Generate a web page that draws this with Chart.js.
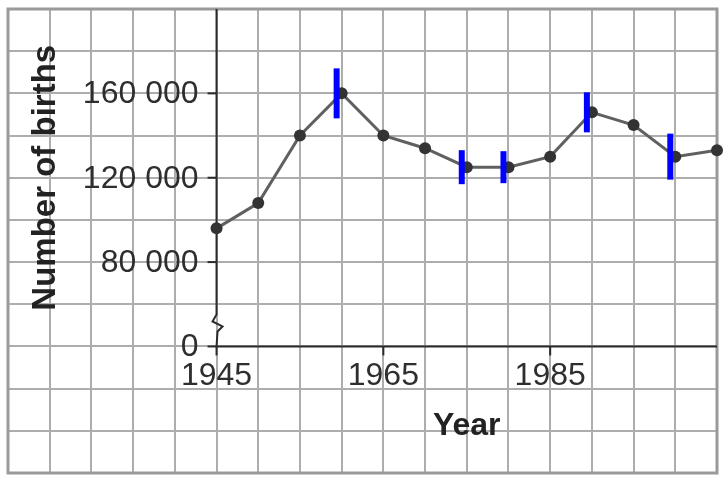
<!DOCTYPE html>
<html>
<head>
<meta charset="utf-8">
<script src="https://cdn.jsdelivr.net/npm/chart.js@4.4.1/dist/chart.umd.min.js"></script>
<style>
  html, body { margin: 0; padding: 0; background: #ffffff; }
  #wrap { width: 723px; height: 481px; }
</style>
</head>
<body>
<div id="wrap"><canvas id="c" width="723" height="481"></canvas></div>
<script>
// ---- data ----
const years  = [1945, 1950, 1955, 1960, 1965, 1970, 1975, 1980, 1985, 1990, 1995, 2000, 2005];
const births = [96000, 108000, 140000, 160000, 140000, 134000, 125000, 125000, 130000, 151000, 145000, 130000, 133000];
// years annotated with blue pen strokes
const markedYears = [1960, 1975, 1980, 1990, 2000];
const markHalfLengths = [25, 17, 16, 20, 23];
// tick labels (the "0" label sits at the axis break)
const yTickValues = [40000, 80000, 120000, 160000];
const yTickLabels = ['0', '80 000', '120 000', '160 000'];
const xTickValues = [1945, 1965, 1985];
const xTickLabels = ['1945', '1965', '1985'];
const yAxisTitle = 'Number of births';
const xAxisTitle = 'Year';
const axisAtYear = 1945;
const axisAtValue = 40000;

const seriesPoints = years.map((y, i) => ({ x: y, y: births[i] }));
const markPoints = markedYears.map(y => ({ x: y - 0.6, y: births[years.indexOf(y)] }));

const axesPlugin = {
  id: 'paperAxes',
  beforeDatasetsDraw(chart) {
    const { ctx, chartArea: a } = chart;
    const xs = chart.scales.x, ys = chart.scales.y;
    const ax = xs.getPixelForValue(axisAtYear);
    const ay = ys.getPixelForValue(axisAtValue);
    ctx.save();
    // outer frame
    ctx.strokeStyle = '#9a9a9a';
    ctx.lineWidth = 3;
    ctx.strokeRect(a.left, a.top, a.right - a.left, a.bottom - a.top);

    ctx.strokeStyle = '#2b2b2b';
    ctx.lineWidth = 2;
    ctx.lineCap = 'butt';
    // y axis with break
    ctx.beginPath();
    ctx.moveTo(ax, a.top);
    ctx.lineTo(ax, ay - 32);
    ctx.lineTo(ax - 4, ay - 25);
    ctx.lineTo(ax + 6, ay - 20);
    ctx.lineTo(ax + 1, ay - 15);
    ctx.lineTo(ax, ay);
    ctx.stroke();
    // x axis
    ctx.beginPath();
    ctx.moveTo(ax, ay);
    ctx.lineTo(a.right, ay);
    ctx.stroke();
    // y ticks + labels
    ctx.font = '32px "Liberation Sans", Arial, sans-serif';
    ctx.fillStyle = '#2e2e2e';
    ctx.textAlign = 'right';
    ctx.textBaseline = 'middle';
    yTickValues.forEach((v, i) => {
      const py = ys.getPixelForValue(v);
      ctx.beginPath();
      ctx.moveTo(ax - 9, py);
      ctx.lineTo(ax, py);
      ctx.stroke();
      ctx.fillText(yTickLabels[i], ax - 18, py + 1);
    });
    // x ticks + labels
    ctx.textAlign = 'center';
    xTickValues.forEach((v, i) => {
      const px = xs.getPixelForValue(v);
      ctx.beginPath();
      ctx.moveTo(px, ay);
      ctx.lineTo(px, ay + 9);
      ctx.stroke();
      ctx.fillText(xTickLabels[i], px, ay + 30);
    });
    // titles
    ctx.font = 'bold 32px "Liberation Sans", Arial, sans-serif';
    ctx.fillStyle = '#222222';
    ctx.fillText(xAxisTitle, xs.getPixelForValue(1975), ay + 80);
    ctx.font = 'bold 33px "Liberation Sans", Arial, sans-serif';
    ctx.save();
    ctx.translate(a.left + 38, ys.getPixelForValue(120000));
    ctx.rotate(-Math.PI / 2);
    ctx.fillText(yAxisTitle, 0, 0);
    ctx.restore();
    ctx.restore();
  }
};

new Chart(document.getElementById('c'), {
  type: 'scatter',
  data: {
    datasets: [
      {
        data: markPoints,
        showLine: false,
        pointStyle: 'line',
        rotation: 90,
        pointRadius: markHalfLengths,
        pointHoverRadius: markHalfLengths,
        pointBorderWidth: 6,
        pointBorderColor: '#0000ff',
        pointBackgroundColor: '#0000ff',
        order: 0,
        clip: false
      },
      {
        data: seriesPoints,
        showLine: true,
        borderColor: '#606060',
        borderWidth: 3,
        pointRadius: 6,
        pointBackgroundColor: '#333333',
        pointBorderWidth: 0,
        order: 1,
        clip: false
      }
    ]
  },
  options: {
    responsive: false,
    animation: false,
    layout: { autoPadding: false, padding: { left: 8, top: 9, right: 6, bottom: 8 } },
    plugins: { legend: { display: false }, tooltip: { enabled: false } },
    scales: {
      x: {
        type: 'linear', min: 1920, max: 2005,
        ticks: { display: false, stepSize: 5 },
        grid: { color: '#adadad', lineWidth: 2, drawTicks: false },
        border: { display: false }
      },
      y: {
        type: 'linear', min: -20000, max: 200000,
        ticks: { display: false, stepSize: 20000 },
        grid: { color: '#adadad', lineWidth: 2, drawTicks: false },
        border: { display: false }
      }
    }
  },
  plugins: [axesPlugin]
});
</script>
</body>
</html>
